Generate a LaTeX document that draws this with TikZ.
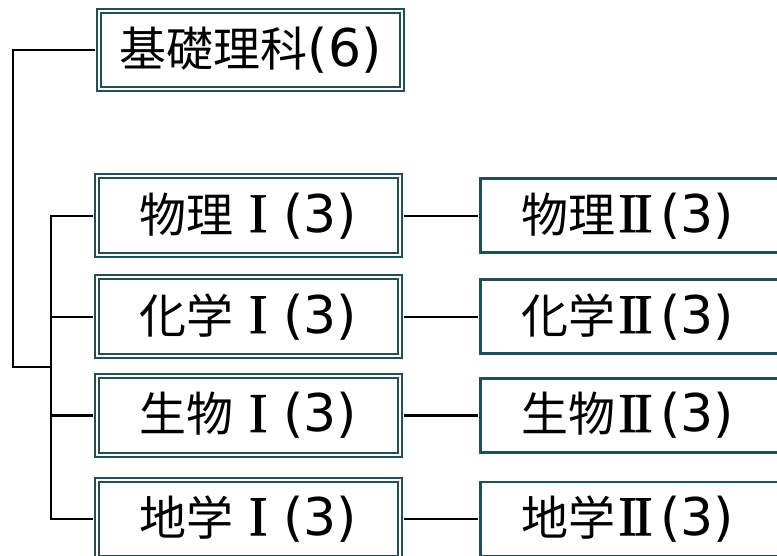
\documentclass[tikz,border=0pt]{standalone}
\usepackage{fontspec}
\newfontfamily\cjk{Noto Sans CJK JP}
\newfontfamily\lat{DejaVu Sans}
\newfontfamily\rom[FakeBold=1.2]{Liberation Serif}
\definecolor{boxc}{RGB}{34,78,84}
\newcommand{\mylab}[3]{{\fontsize{47}{50}\selectfont\cjk #1}{\fontsize{56}{58}\selectfont\rom #2}{\fontsize{52}{55}\selectfont\lat #3}}
\newcommand{\romI}{\makebox[50pt][c]{I}}
\newcommand{\romII}{\kern3pt I\kern-3ptI\kern8pt}
\tikzset{
  dbox/.style={draw=boxc, double=white, double distance=2pt, line width=2pt,
    inner sep=0pt, minimum width=303pt, minimum height=78.5pt},
  sbox/.style={draw=boxc, line width=2.6pt, anchor=west, inner ysep=0pt, inner xsep=41pt,
    text width=340pt, align=left, minimum height=74pt},
  wire/.style={draw=black, line width=2.3pt}
}
\begin{document}
\begin{tikzpicture}[x=1pt,y=-1pt]
\useasboundingbox (0,0) rectangle (777,555);
% left column
\node[dbox] (k) at (250.8,50) {\mylab{基礎理科}{}{(6)}};
\node[dbox] (p1) at (248,215.7) {\mylab{物理}{\romI}{(3)}};
\node[dbox] (p2) at (248,316.7) {\mylab{化学}{\romI}{(3)}};
\node[dbox] (p3) at (248,415.6) {\mylab{生物}{\romI}{(3)}};
\node[dbox] (p4) at (248,518.8) {\mylab{地学}{\romI}{(3)}};
% right column
\node[sbox] (q1) at (479,215.7) {\mylab{物理}{\romII}{(3)}};
\node[sbox] (q2) at (479,316.7) {\mylab{化学}{\romII}{(3)}};
\node[sbox] (q3) at (479,415.6) {\mylab{生物}{\romII}{(3)}};
\node[sbox] (q4) at (479,518.8) {\mylab{地学}{\romII}{(3)}};
% connectors
\coordinate (lt) at (13,0);
\coordinate (bt) at (51,0);
\coordinate (jy) at (0,366.7);
\draw[wire, shorten <=3pt] (k.west) -- (k.west -| lt) -- (lt |- jy) -- (jy -| bt);
\draw[wire, shorten <=3pt, shorten >=3pt] (p1.west) -- (p1.west -| bt) -- (p4.west -| bt) -- (p4.west);
\draw[wire, shorten >=3pt] (p2.west -| bt) -- (p2.west);
\draw[wire, shorten >=3pt] (p3.west -| bt) -- (p3.west);
\foreach \i in {1,2,3,4}{
  \draw[wire, shorten <=3pt, shorten >=1.3pt] (p\i.east) -- (q\i.west);
}
\end{tikzpicture}
\end{document}
